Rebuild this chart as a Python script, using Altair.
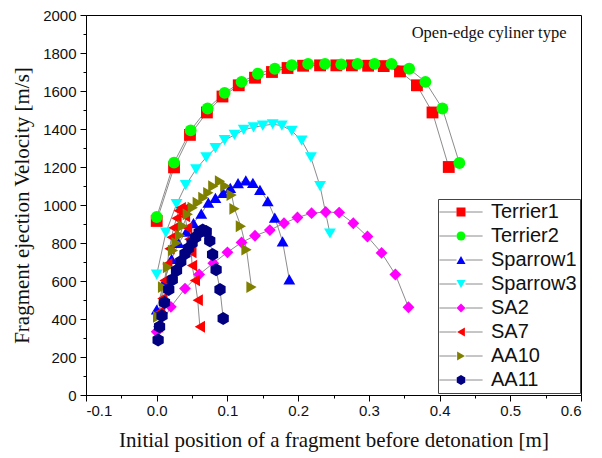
import altair as alt
import pandas as pd

series_names = ["Terrier1", "Terrier2", "Sparrow1", "Sparrow3", "SA2", "SA7", "AA10", "AA11"]
colors = ["#FF0000", "#00FF00", "#0000FF", "#00FFFF", "#FF00FF", "#FF0000", "#808000", "#000080"]
hexagon = "M0,-1.1L0.95,-0.55L0.95,0.55L0,1.1L-0.95,0.55L-0.95,-0.55Z"
shapes = ["square", "circle", "triangle-up", "triangle-down", "diamond", "triangle-left", "triangle-right", hexagon]

terrier1_x = [0.0, 0.0245, 0.047, 0.071, 0.093, 0.116, 0.139, 0.163, 0.185, 0.207, 0.231, 0.254, 0.276, 0.299, 0.321, 0.344, 0.368, 0.390, 0.413]
terrier1_y = [916, 1198, 1369, 1487, 1571, 1630, 1670, 1700, 1721, 1733, 1735, 1735, 1735, 1733, 1731, 1703, 1630, 1487, 1200]
terrier2_x = [0.0, 0.0245, 0.048, 0.072, 0.096, 0.120, 0.143, 0.167, 0.191, 0.214, 0.238, 0.261, 0.284, 0.308, 0.332, 0.357, 0.380, 0.404, 0.428]
terrier2_y = [937, 1223, 1393, 1508, 1590, 1648, 1691, 1717, 1736, 1743, 1743, 1740, 1743, 1743, 1743, 1717, 1648, 1508, 1221]
sparrow1_x = [0.0, 0.010, 0.021, 0.031, 0.042, 0.052, 0.063, 0.073, 0.083, 0.094, 0.104, 0.115, 0.126, 0.136, 0.146, 0.157, 0.167, 0.178, 0.1875]
sparrow1_y = [450, 590, 716, 800, 860, 905, 955, 1012, 1038, 1064, 1090, 1115, 1129, 1117, 1080, 1021, 934, 808, 608]
sparrow3_x = [0.0, 0.013, 0.028, 0.041, 0.0556, 0.070, 0.083, 0.096, 0.110, 0.123, 0.137, 0.150, 0.164, 0.177, 0.191, 0.205, 0.218, 0.231, 0.245]
sparrow3_y = [634, 855, 1004, 1104, 1188, 1251, 1299, 1341, 1369, 1395, 1409, 1418, 1425, 1418, 1390, 1339, 1251, 1099, 850]
sa2_x = [0.0, 0.020, 0.040, 0.060, 0.080, 0.100, 0.120, 0.139, 0.160, 0.180, 0.199, 0.219, 0.239, 0.258, 0.278, 0.298, 0.318, 0.3375, 0.356]
sa2_y = [333, 464, 560, 634, 694, 751, 803, 838, 868, 904, 934, 957, 963, 960, 904, 834, 748, 634, 462]
sa7_x = [0.002, 0.005, 0.008, 0.011, 0.015, 0.018, 0.021, 0.024, 0.028, 0.031, 0.034, 0.037, 0.040, 0.043, 0.046, 0.049, 0.050, 0.054, 0.058, 0.061]
sa7_y = [359, 438, 508, 603, 690, 770, 830, 880, 930, 970, 985, 975, 940, 880, 820, 751, 681, 603, 499, 359]
aa10_x = [0.002, 0.009, 0.016, 0.023, 0.028, 0.033, 0.037, 0.044, 0.051, 0.058, 0.066, 0.073, 0.080, 0.0895, 0.097, 0.106, 0.110, 0.119, 0.127, 0.134]
aa10_y = [411, 568, 672, 760, 800, 840, 890, 951, 986, 1012, 1038, 1064, 1099, 1125, 1100, 1052, 980, 888, 765, 568]
aa11_x = [0.002, 0.004, 0.0075, 0.011, 0.017, 0.022, 0.028, 0.034, 0.040, 0.045, 0.050, 0.055, 0.060, 0.065, 0.070, 0.075, 0.079, 0.084, 0.0895, 0.094]
aa11_y = [290, 359, 417, 487, 555, 607, 655, 702, 743, 772, 800, 830, 855, 868, 860, 812, 740, 659, 555, 403]

x_major = [-0.1, 0.0, 0.1, 0.2, 0.3, 0.4, 0.5, 0.6]
x_minor = [-0.05, 0.05, 0.15, 0.25, 0.35, 0.45, 0.55]
y_major = [0, 200, 400, 600, 800, 1000, 1200, 1400, 1600, 1800, 2000]
y_minor = [100, 300, 500, 700, 900, 1100, 1300, 1500, 1700, 1900]

note_text = ["Open-edge cyliner type"]
note_x = [0.47]
note_y = [1905]

all_x = [terrier1_x, terrier2_x, sparrow1_x, sparrow3_x, sa2_x, sa7_x, aa10_x, aa11_x]
all_y = [terrier1_y, terrier2_y, sparrow1_y, sparrow3_y, sa2_y, sa7_y, aa10_y, aa11_y]

rows = []
for si, (name, xs, ys) in enumerate(zip(series_names, all_x, all_y)):
    for i, (xv, yv) in enumerate(zip(xs, ys)):
        rows.append({"series": name, "x": xv, "y": yv, "idx": i, "sorder": si})
df = pd.DataFrame(rows)
note_df = pd.DataFrame({"x": note_x, "y": note_y, "text": note_text})

x_scale = alt.Scale(domain=[-0.1, 0.6], nice=False, zero=False)
y_scale = alt.Scale(domain=[0, 2000], nice=False, zero=False)

x_axis_major = alt.Axis(
    values=x_major, orient="bottom", tickSize=6, labelPadding=2,
    labelExpr="datum.value < 0 ? '-' + format(-datum.value, '.1f') : format(datum.value, '.1f')",
    title="Initial position of a fragment before detonation [m]",
    titleFont="Liberation Serif", titleFontSize=21, titleFontWeight="normal",
    titleColor="#111", titlePadding=11,
)
y_axis_major = alt.Axis(
    values=y_major, orient="left", tickSize=6, labelPadding=4, format="d",
    title="Fragment ejection Velocity [m/s]",
    titleFont="Liberation Serif", titleFontSize=21, titleFontWeight="normal",
    titleColor="#111", titlePadding=10,
)
x_axis_minor = alt.Axis(values=x_minor, orient="bottom", tickSize=3, labels=False,
                        domain=False, title=None, grid=False)
y_axis_minor = alt.Axis(values=y_minor, orient="left", tickSize=3, labels=False,
                        domain=False, title=None, grid=False)

legend_common = dict(
    title=None, orient="none", legendX=352, legendY=184, direction="vertical",
    labelFont="Liberation Sans", labelFontSize=20, labelColor="#111",
    symbolSize=81, padding=3, rowPadding=4, symbolOffset=10, labelOffset=20,
)

line_legend = alt.Legend(
    symbolType="M-4.8,0H-1M1,0H4.8", symbolStrokeWidth=1, labelOpacity=0,
    **legend_common,
)
point_legend = alt.Legend(
    strokeColor="#444", symbolStrokeWidth=0, symbolOpacity=1, **legend_common,
)

lines = alt.Chart(df).mark_line(strokeWidth=1).encode(
    x=alt.X("x:Q", scale=x_scale, axis=x_axis_major),
    y=alt.Y("y:Q", scale=y_scale, axis=y_axis_major),
    color=alt.Color("series:N", sort=series_names,
                    scale=alt.Scale(domain=series_names, range=["#8c8c8c"] * 8),
                    legend=line_legend),
    order=alt.Order("idx:Q"),
)

points = alt.Chart(df).mark_point(filled=True, opacity=1, strokeWidth=0).encode(
    x=alt.X("x:Q", scale=x_scale, axis=x_axis_minor),
    y=alt.Y("y:Q", scale=y_scale, axis=y_axis_minor),
    color=alt.Color("series:N", sort=series_names,
                    scale=alt.Scale(domain=series_names, range=colors),
                    legend=point_legend),
    shape=alt.Shape("series:N", sort=series_names,
                    scale=alt.Scale(domain=series_names, range=shapes),
                    legend=point_legend),
    size=alt.value(140),
)

note = alt.Chart(note_df).mark_text(
    font="Liberation Serif", fontSize=16.5, color="#111", align="center", baseline="middle"
).encode(
    x=alt.X("x:Q", scale=x_scale, axis=None),
    y=alt.Y("y:Q", scale=y_scale, axis=None),
    text="text:N",
)

chart = alt.layer(lines, points, note).resolve_scale(
    color="independent", shape="independent"
).resolve_axis(
    x="independent", y="independent"
).properties(
    width=495, height=380,
    autosize=alt.AutoSizeParams(type="none"),
    padding={"left": 78, "top": 7, "right": 10, "bottom": 60},
).configure_view(
    stroke="black", strokeWidth=1
).configure_axis(
    domainColor="black", tickColor="black", grid=False,
    labelFont="Liberation Sans", labelFontSize=15, labelColor="#111",
)

chart.save("out.html", embed_options={"renderer": "svg", "actions": False})
